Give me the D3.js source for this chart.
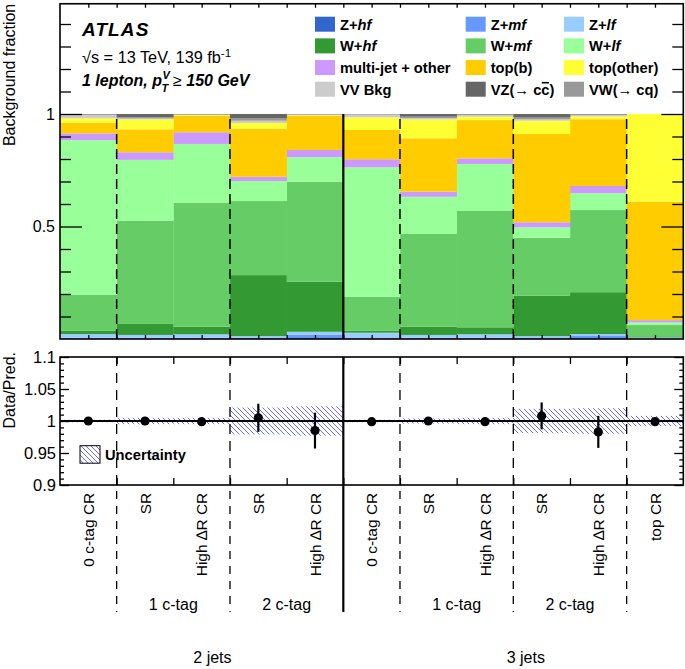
<!DOCTYPE html>
<html><head><meta charset="utf-8">
<script src="https://cdn.jsdelivr.net/npm/d3@7"></script>
<style>
body{margin:0;background:#fff}
svg{display:block}
text{font-family:"Liberation Sans",Arial,Helvetica,sans-serif;fill:#000}
</style>
</head><body>
<svg id="c" width="685" height="669"></svg>
<script>
// ---------- DATA ----------
const categories = ["0 c-tag CR","SR","High \u2206R CR","SR","High \u2206R CR","0 c-tag CR","SR","High \u2206R CR","SR","High \u2206R CR","top CR"];
const tagGroups = [{label:"1 c-tag",pos:2},{label:"2 c-tag",pos:4},{label:"1 c-tag",pos:7},{label:"2 c-tag",pos:9}];
const jetGroups = [{label:"2 jets",pos:2.69},{label:"3 jets",pos:8.22}];
const dashedEdges = [1,3,6,8,10];
const solidEdges = [5];

const Zhf      = [0.002,0.002,0.002,0.003,0.004,0.002,0.002,0.002,0.003,0.004,0.001];
const Zmf      = [0.003,0.004,0.004,0.004,0.016,0.005,0.004,0.004,0.004,0.012,0.002];
const Zlf      = [0.017,0.012,0.015,0.006,0.012,0.021,0.012,0.015,0.006,0.006,0.004];
const Whf      = [0.014,0.049,0.034,0.271,0.223,0.008,0.037,0.031,0.179,0.186,0.005];
const Wmf      = [0.160,0.459,0.551,0.329,0.444,0.152,0.412,0.517,0.258,0.365,0.050];
const Wlf      = [0.688,0.270,0.261,0.089,0.109,0.575,0.165,0.209,0.046,0.075,0.012];
const multijet = [0.030,0.034,0.052,0.019,0.032,0.036,0.023,0.025,0.023,0.032,0.010];
const topB     = [0.047,0.102,0.073,0.214,0.151,0.130,0.237,0.170,0.392,0.297,0.526];
const topOther = [0.020,0.044,0.003,0.025,0.003,0.056,0.084,0.015,0.059,0.012,0.390];
const VVbkg    = [0.015,0.004,0.002,0.010,0.003,0.012,0.006,0.007,0.006,0.006,0.000];
const VZcc     = [0.002,0.014,0.002,0.018,0.001,0.001,0.012,0.002,0.016,0.002,0.000];
const VWcq     = [0.002,0.006,0.001,0.012,0.002,0.002,0.006,0.003,0.008,0.003,0.000];

const ratio    = [1.000,1.000,0.999,1.005,0.985,0.999,1.000,0.999,1.008,0.983,0.999];
const ratioErr = [0.002,0.002,0.003,0.022,0.028,0.002,0.003,0.003,0.021,0.025,0.004];
const uncert   = [0.002,0.005,0.005,0.021,0.023,0.002,0.004,0.005,0.019,0.020,0.008];

const topTicksMajor = [0.5,1];
const ratioTicksMajor = [0.9,0.95,1,1.05,1.1];

// legend samples (legend order, row by row); style: 0 normal-bold, 1 italic, 2 not bold, 3 overlined
const samples = [
  {key:"Zhf", vals:Zhf, color:"#3366cc", label:[["Z+",0],["hf",1]]},
  {key:"Zmf", vals:Zmf, color:"#6699ff", label:[["Z+",0],["mf",1]]},
  {key:"Zlf", vals:Zlf, color:"#99ccff", label:[["Z+",0],["lf",1]]},
  {key:"Whf", vals:Whf, color:"#339933", label:[["W+",0],["hf",1]]},
  {key:"Wmf", vals:Wmf, color:"#66cc66", label:[["W+",0],["mf",1]]},
  {key:"Wlf", vals:Wlf, color:"#99ff99", label:[["W+",0],["lf",1]]},
  {key:"mj",  vals:multijet, color:"#cc99ff", label:[["multi-jet + other",0]]},
  {key:"topb",vals:topB, color:"#ffcc00", label:[["top(b)",0]]},
  {key:"topo",vals:topOther, color:"#ffff33", label:[["top(other)",0]]},
  {key:"VV",  vals:VVbkg, color:"#cccccc", label:[["VV Bkg",0]]},
  {key:"VZ",  vals:VZcc, color:"#666666", label:[["VZ(",0],["\u2192",2],[" c",0],["c",3],[")",0]]},
  {key:"VW",  vals:VWcq, color:"#999999", label:[["VW(",0],["\u2192",2],[" cq)",0]]}
];
const stackOrder = ["Zhf","Zmf","Zlf","Whf","Wmf","Wlf","mj","topb","topo","VV","VW","VZ"];

// ---------- SETUP ----------
const svg = d3.select("#c");
const X0 = 60, X1 = 683.3;
const x = d3.scaleLinear().domain([0,11]).range([X0,X1]);
const yT = d3.scaleLinear().domain([0,1.49]).range([339,3.75]);
const yR = d3.scaleLinear().domain([0.9,1.1]).range([485,357]);
const byKey = Object.fromEntries(samples.map(s=>[s.key,s]));

// hatch pattern
const defs = svg.append("defs");
const pat = defs.append("pattern").attr("id","hatch").attr("patternUnits","userSpaceOnUse")
  .attr("width",5).attr("height",5);
pat.append("path").attr("d","M-1,-1 L6,6 M-1,4 L1,6 M4,-1 L6,1").attr("stroke","#5a5aff").attr("stroke-width",0.9);

// ---------- TOP PANEL ----------
const rows = categories.map((c,i)=>{const r={i}; samples.forEach(s=>r[s.key]=s.vals[i]); return r;});
const stacked = d3.stack().keys(stackOrder)(rows);
const gBars = svg.append("g");
stacked.forEach(layer=>{
  gBars.selectAll(null).data(layer).enter().append("rect")
    .attr("x",d=>x(d.data.i)).attr("width",x(1)-x(0)+0.3)
    .attr("y",d=>yT(d[1])).attr("height",d=>Math.max(0,yT(d[0])-yT(d[1])))
    .attr("fill",byKey[layer.key].color);
});
// separators
svg.selectAll(null).data(dashedEdges).enter().append("line")
  .attr("x1",d=>x(d)).attr("x2",d=>x(d)).attr("y1",yT(0)).attr("y2",yT(1))
  .attr("stroke","#000").attr("stroke-width",1.5).attr("stroke-dasharray","10,5");
svg.selectAll(null).data(solidEdges).enter().append("line")
  .attr("x1",d=>x(d)).attr("x2",d=>x(d)).attr("y1",yT(0)).attr("y2",yT(1))
  .attr("stroke","#000").attr("stroke-width",2.2);

function styleAxis(g){g.select(".domain").remove(); g.selectAll(".tick line").attr("stroke","#000").attr("stroke-width",1.3);}
const minorTop = d3.range(1,15).map(d=>d/10).filter(v=>!topTicksMajor.some(m=>Math.abs(m-v)<1e-6));
svg.append("g").attr("transform",`translate(${X0},0)`)
  .call(d3.axisLeft(yT).tickValues(topTicksMajor).tickSize(-22).tickPadding(5).tickFormat(d3.format("")))
  .call(styleAxis).call(g=>g.selectAll("text").attr("font-size",16).attr("font-family","Liberation Sans, Arial, sans-serif"));
svg.append("g").attr("transform",`translate(${X0},0)`)
  .call(d3.axisLeft(yT).tickValues(minorTop).tickSize(-11).tickFormat("")).call(styleAxis);
svg.append("g").attr("transform",`translate(${X1},0)`)
  .call(d3.axisRight(yT).tickValues(topTicksMajor).tickSize(-22).tickFormat("")).call(styleAxis);
svg.append("g").attr("transform",`translate(${X1},0)`)
  .call(d3.axisRight(yT).tickValues(minorTop).tickSize(-11).tickFormat("")).call(styleAxis);
const halfBins = d3.range(1,22).map(d=>d/2);
svg.append("g").attr("transform",`translate(0,${yT(0)})`)
  .call(d3.axisBottom(x).tickValues(halfBins).tickSize(-4).tickFormat("")).call(styleAxis);
svg.append("g").attr("transform",`translate(0,${yT(1.49)})`)
  .call(d3.axisTop(x).tickValues(halfBins).tickSize(-4).tickFormat("")).call(styleAxis);
svg.append("rect").attr("x",X0).attr("y",yT(1.49)).attr("width",X1-X0).attr("height",yT(0)-yT(1.49))
  .attr("fill","none").attr("stroke","#000").attr("stroke-width",1.6);

svg.append("text").attr("transform",`translate(15,${yT(1.49)}) rotate(-90)`).attr("text-anchor","end")
  .attr("font-size",16).text("Background fraction");

// ATLAS labels
svg.append("text").attr("x",82).attr("y",36).attr("font-size",19).attr("font-weight","bold")
  .attr("font-style","italic").attr("letter-spacing",1.1).text("ATLAS");
const t2 = svg.append("text").attr("x",82).attr("y",63).attr("font-size",16.3);
t2.append("tspan").text("\u221As = 13 TeV, 139 fb");
t2.append("tspan").attr("dy",-6).attr("font-size",11.5).text("-1");
const t3 = svg.append("text").attr("x",82).attr("y",86).attr("font-size",16).attr("font-weight","bold").attr("font-style","italic").text("1 lepton, p");
const t3w = t3.node().getComputedTextLength();
svg.append("text").attr("x",82+t3w+0.5).attr("y",79).attr("font-size",11).attr("font-weight","bold").attr("font-style","italic").text("V");
svg.append("text").attr("x",82+t3w-0.5).attr("y",92).attr("font-size",11).attr("font-weight","bold").attr("font-style","italic").text("T");
const t4 = svg.append("text").attr("x",82+t3w+11).attr("y",86).attr("font-size",16);
t4.append("tspan").text(" \u2265 ");
t4.append("tspan").attr("font-weight","bold").attr("font-style","italic").text("150 GeV");

// legend
const legX = [315,465.7,564], legY0 = 24.2, legDY = 21.67;
samples.forEach((s,i)=>{
  const cx = legX[i%3], cy = legY0 + Math.floor(i/3)*legDY;
  svg.append("rect").attr("x",cx).attr("y",cy-7.5).attr("width",20).attr("height",15).attr("fill",s.color);
  const t = svg.append("text").attr("x",cx+25).attr("y",cy+5.3).attr("font-size",14.7).attr("font-weight","bold");
  const over = [];
  s.label.forEach(([txt,st])=>{
    const sp = t.append("tspan").text(txt);
    if(st===1) sp.attr("font-style","italic");
    if(st===2) sp.attr("font-weight","normal");
    if(st===3) over.push(sp);
  });
  over.forEach(sp=>{
    const n = sp.node();
    const p0 = n.getStartPositionOfChar(0), p1 = n.getEndPositionOfChar(0);
    svg.append("line").attr("x1",p0.x+0.5).attr("x2",p1.x-0.5).attr("y1",cy-6.5).attr("y2",cy-6.5)
      .attr("stroke","#000").attr("stroke-width",1.6);
  });
});

// ---------- RATIO PANEL ----------
svg.selectAll(null).data(uncert).enter().append("rect")
  .attr("x",(d,i)=>x(i)).attr("width",x(1)-x(0))
  .attr("y",d=>yR(1+d)).attr("height",d=>yR(1-d)-yR(1+d))
  .attr("fill","url(#hatch)");
svg.selectAll(null).data(dashedEdges).enter().append("line")
  .attr("x1",d=>x(d)).attr("x2",d=>x(d)).attr("y1",yR(0.9)).attr("y2",yR(1.1))
  .attr("stroke","#000").attr("stroke-width",1.3).attr("stroke-dasharray","10,7");
svg.selectAll(null).data(solidEdges).enter().append("line")
  .attr("x1",d=>x(d)).attr("x2",d=>x(d)).attr("y1",yR(0.9)).attr("y2",yR(1.1))
  .attr("stroke","#000").attr("stroke-width",2.2);
svg.append("line").attr("x1",X0).attr("x2",X1).attr("y1",yR(1)).attr("y2",yR(1)).attr("stroke","#000").attr("stroke-width",2);

const minorR = d3.range(90,111).map(d=>d/100).filter(v=>!ratioTicksMajor.some(m=>Math.abs(m-v)<1e-6));
svg.append("g").attr("transform",`translate(${X0},0)`)
  .call(d3.axisLeft(yR).tickValues(ratioTicksMajor).tickSize(-9).tickPadding(4).tickFormat(d=>d3.format("")(+d.toFixed(2))))
  .call(styleAxis).call(g=>g.selectAll("text").attr("font-size",16.5).attr("font-family","Liberation Sans, Arial, sans-serif"));
svg.append("g").attr("transform",`translate(${X0},0)`)
  .call(d3.axisLeft(yR).tickValues(minorR).tickSize(-4).tickFormat("")).call(styleAxis);
svg.append("g").attr("transform",`translate(${X1},0)`)
  .call(d3.axisRight(yR).tickValues(ratioTicksMajor).tickSize(-9).tickFormat("")).call(styleAxis);
svg.append("g").attr("transform",`translate(${X1},0)`)
  .call(d3.axisRight(yR).tickValues(minorR).tickSize(-4).tickFormat("")).call(styleAxis);
const edges = d3.range(1,11);
svg.append("g").attr("transform",`translate(0,${yR(0.9)})`)
  .call(d3.axisBottom(x).tickValues(edges).tickSize(-7).tickFormat("")).call(styleAxis);
svg.append("g").attr("transform",`translate(0,${yR(1.1)})`)
  .call(d3.axisTop(x).tickValues(edges).tickSize(-7).tickFormat("")).call(styleAxis);
svg.append("rect").attr("x",X0).attr("y",yR(1.1)).attr("width",X1-X0).attr("height",yR(0.9)-yR(1.1))
  .attr("fill","none").attr("stroke","#000").attr("stroke-width",1.6);

// data points
svg.selectAll(null).data(ratio).enter().append("line")
  .attr("x1",(d,i)=>x(i+0.5)).attr("x2",(d,i)=>x(i+0.5))
  .attr("y1",(d,i)=>yR(d-ratioErr[i])).attr("y2",(d,i)=>yR(d+ratioErr[i]))
  .attr("stroke","#000").attr("stroke-width",2.2);
svg.selectAll(null).data(ratio).enter().append("circle")
  .attr("cx",(d,i)=>x(i+0.5)).attr("cy",d=>yR(d)).attr("r",4.6).attr("fill","#000");

svg.append("text").attr("transform",`translate(15,352) rotate(-90)`).attr("text-anchor","end")
  .attr("font-size",16).text("Data/Pred.");

// uncertainty legend
svg.append("rect").attr("x",80).attr("y",445.7).attr("width",20).attr("height",17.5)
  .attr("fill","url(#hatch)").attr("stroke","#000").attr("stroke-width",1);
svg.append("text").attr("x",105).attr("y",460).attr("font-size",14.7).attr("font-weight","bold").text("Uncertainty");

// ---------- LABEL AREA ----------
const labBottom = 612;
svg.selectAll(null).data(dashedEdges).enter().append("line")
  .attr("x1",d=>x(d)).attr("x2",d=>x(d)).attr("y1",yR(0.9)+6).attr("y2",labBottom)
  .attr("stroke","#000").attr("stroke-width",1.3).attr("stroke-dasharray","8,7");
svg.selectAll(null).data(solidEdges).enter().append("line")
  .attr("x1",d=>x(d)).attr("x2",d=>x(d)).attr("y1",yR(0.9)).attr("y2",labBottom)
  .attr("stroke","#000").attr("stroke-width",2.2);
svg.selectAll(null).data(categories).enter().append("text")
  .attr("transform",(d,i)=>`translate(${x(i+0.5)+5.8},492.7) rotate(-90)`)
  .attr("text-anchor","end").attr("font-size",15.5).text(d=>d);
svg.selectAll(null).data(tagGroups).enter().append("text")
  .attr("x",d=>x(d.pos)).attr("y",610).attr("text-anchor","middle").attr("font-size",16).text(d=>d.label);
svg.selectAll(null).data(jetGroups).enter().append("text")
  .attr("x",d=>x(d.pos)).attr("y",662.5).attr("text-anchor","middle").attr("font-size",16).text(d=>d.label);
</script>
</body></html>
